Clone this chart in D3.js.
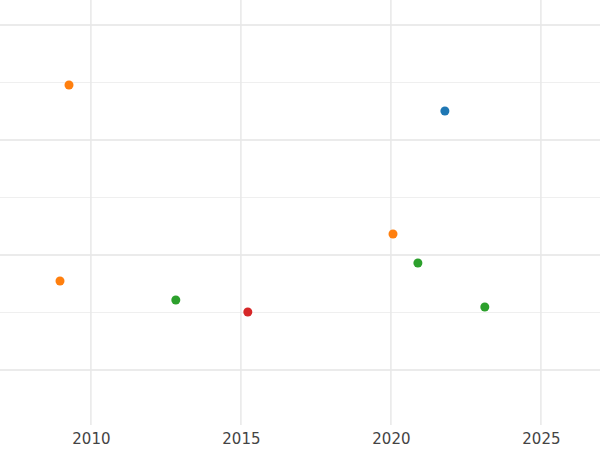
<!DOCTYPE html>
<html>
<head>
<meta charset="utf-8">
<script src="https://cdn.jsdelivr.net/npm/d3@7"></script>
<style>
  body { margin: 0; background: #fff; }
  text { font-family: "DejaVu Sans", sans-serif; }
</style>
</head>
<body>
<svg id="chart" width="600" height="450"></svg>
<script>
// values
var years  = [2009.27, 2021.8, 2020.07, 2020.9, 2008.97, 2012.83, 2015.23, 2023.13];
var values = [24.78, 22.52, 11.83, 9.30, 7.74, 6.09, 5.04, 5.48];
var groups = ['b', 'a', 'b', 'c', 'b', 'c', 'd', 'c'];
var xTicks = [2010, 2015, 2020, 2025];
var yMajor = [0, 10, 20, 30];
var yMinor = [5, 15, 25];

var svg = d3.select('#chart');
var plotBottom = 425;

var x = d3.scaleLinear().domain([2006.97, 2026.97]).range([0, 600]);
var y = d3.scaleLinear().domain([0, 10]).range([370, 255]); // 11.5px per unit
var color = d3.scaleOrdinal().domain(['a', 'b', 'c', 'd'])
    .range(['#1f77b4', '#ff7f0e', '#2ca02c', '#d62728']);

// grid
svg.selectAll('line.ymin').data(yMinor).enter().append('line')
    .attr('x1', 0).attr('x2', 600)
    .attr('y1', d => y(d)).attr('y2', d => y(d))
    .attr('stroke', '#efefef').attr('stroke-width', 1);
svg.selectAll('line.ymaj').data(yMajor).enter().append('line')
    .attr('x1', 0).attr('x2', 600)
    .attr('y1', d => y(d)).attr('y2', d => y(d))
    .attr('stroke', '#e4e4e4').attr('stroke-width', 1.5);
svg.selectAll('line.xmaj').data(xTicks).enter().append('line')
    .attr('x1', d => x(d)).attr('x2', d => x(d))
    .attr('y1', 0).attr('y2', plotBottom)
    .attr('stroke', '#e8e8e8').attr('stroke-width', 1.5);

// x axis labels
var xAxis = svg.append('g')
    .attr('transform', `translate(0,${plotBottom})`)
    .call(d3.axisBottom(x).tickValues(xTicks).tickFormat(d3.format('d')).tickSize(0).tickPadding(8));
xAxis.select('.domain').remove();
xAxis.selectAll('text').attr('font-size', 15).attr('fill', '#444')
    .style('font-family', '"DejaVu Sans", sans-serif');

// points
svg.selectAll('circle').data(years).enter().append('circle')
    .attr('cx', d => x(d))
    .attr('cy', (d, i) => y(values[i]))
    .attr('r', 4.5)
    .attr('fill', (d, i) => color(groups[i]));
</script>
</body>
</html>
